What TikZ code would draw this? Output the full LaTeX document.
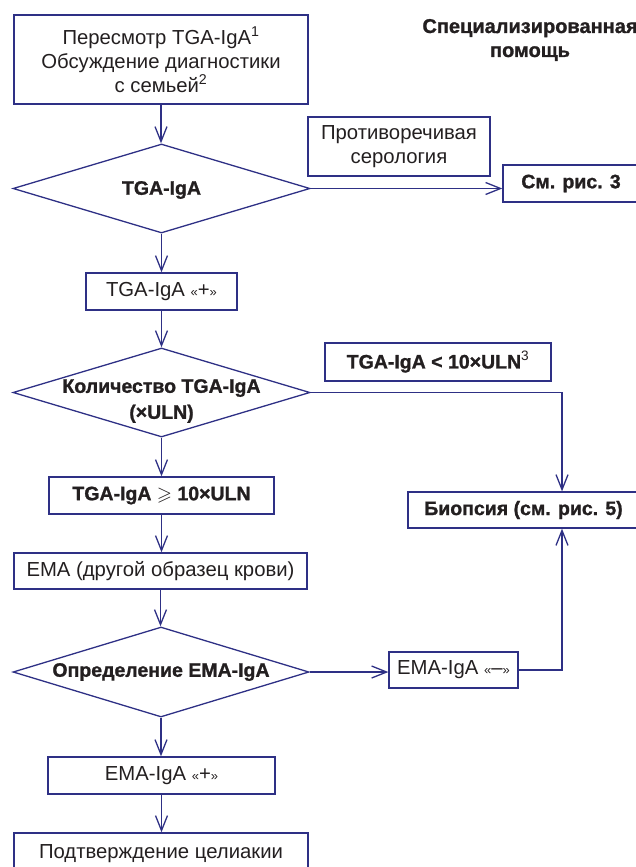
\documentclass[tikz,border=0pt]{standalone}
\usepackage{fontspec}
\setmainfont{Liberation Sans}[BoldFeatures={FakeBold=1.2}]
\usepackage{amssymb}
\usetikzlibrary{shapes.geometric,arrows.meta}
\definecolor{navy}{HTML}{2E3085}
\definecolor{ink}{HTML}{231F20}
% small guillemets around a normal-size sign
\newcommand{\qmark}[1]{{\fontsize{13}{13}\selectfont«}#1{\fontsize{13}{13}\selectfont»}}

\begin{document}
\begin{tikzpicture}[x=1pt,y=-1pt,
  every node/.style={text=ink},
  box/.style={draw=navy,line width=1.3pt,inner sep=0pt,align=center,
    font=\fontsize{20.3}{24}\selectfont},
  bbox/.style={box,font=\bfseries\fontsize{19.5}{24}\selectfont},
  dia/.style={diamond,draw=navy,line width=1.3pt,inner sep=0pt,aspect=1},
  lbl/.style={inner sep=0pt,align=center,font=\bfseries\fontsize{19.5}{26}\selectfont},
  arr/.style={draw=navy,line width=1.3pt,-{Straight Barb[length=15pt,width=12pt]}}]

\useasboundingbox (0,0) rectangle (636,867);

% heading
\node[lbl,font=\bfseries\fontsize{20}{24}\selectfont] (title) at (530,40)
  {Специализированная\\помощь};

% main column
\node[box,minimum width=294pt,minimum height=89pt] (review) at (161,59.5)
  {Пересмотр TGA-IgA\textsuperscript{1}\\Обсуждение диагностики\\с семьей\textsuperscript{2}};
\node[dia,minimum width=297pt,minimum height=89pt] (d1) at (161.5,188.5) {};
\node[lbl] at (161.5,190) {TGA-IgA};
\node[box,minimum width=151pt,minimum height=37pt] (tplus) at (161.5,291.5)
  {TGA-IgA \qmark{+}};
\node[dia,minimum width=297pt,minimum height=89pt] (d2) at (161.5,392.5) {};
\node[lbl] at (161.5,401) {Количество TGA-IgA\\(×ULN)};
\node[bbox,minimum width=225pt,minimum height=37pt] (ge) at (161.5,495.5)
  {TGA-IgA $\geqslant$ 10×ULN};
\node[box,minimum width=293pt,minimum height=36pt] (ema) at (160.5,571)
  {EMA (другой образец крови)};
\node[dia,minimum width=296pt,minimum height=90pt] (d3) at (161,672) {};
\node[lbl] at (161,672) {Определение EMA-IgA};
\node[box,minimum width=227pt,minimum height=37pt] (pos) at (161.5,775.5)
  {EMA-IgA \qmark{+}};
\node[box,minimum width=294pt,minimum height=42pt] (conf) at (161,854)
  {Подтверждение целиакии};

% right-hand branches
\node[box,minimum width=182pt,minimum height=59pt] (contra) at (399,146.5)
  {Противоречивая\\серология};
\node[bbox,minimum width=136pt,minimum height=37pt] (see3) at (571,183.5) {См. рис. 3};
\node[bbox,minimum width=226pt,minimum height=38pt] (lt) at (438,362)
  {TGA-IgA < 10×ULN\textsuperscript{\mdseries 3}};
\node[bbox,minimum width=231pt,minimum height=36pt] (bio) at (523.5,510)
  {Биопсия (см. рис. 5)};
\node[box,minimum width=129pt,minimum height=36pt] (neg) at (453.5,670)
  {EMA-IgA \qmark{–}};
\coordinate (col) at (562,392.5);

% connectors
\draw[arr] (review.south) -- (review.south |- d1.north);
\draw[arr] (d1.east) -- (d1.east -| see3.west);
\draw[arr] (d1.south) -- (tplus.north);
\draw[arr] (tplus.south) -- (d2.north);
\draw[arr] (d2.east) -- (col) -- (col |- bio.north);
\draw[arr] (d2.south) -- (ge.north);
\draw[arr] (ge.south) -- (ge.south |- ema.north);
\draw[arr] (ema.south) -- (ema.south |- d3.north);
\draw[arr] (d3.east) -- (d3.east -| neg.west);
\draw[arr] (neg.east) -- (neg.east -| col) -- (col |- bio.south);
\draw[arr] (d3.south) -- (d3.south |- pos.north);
\draw[arr] (pos.south) -- (pos.south |- conf.north);
\end{tikzpicture}
\end{document}
